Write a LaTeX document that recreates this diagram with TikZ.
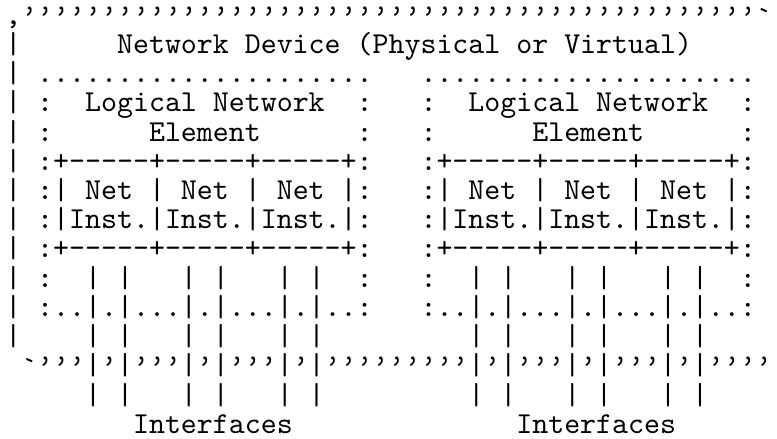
\documentclass[tikz,border=0pt]{standalone}
\usepackage{fontspec}
\setmonofont{lmmono10-regular.otf}
\newcommand\qm{\raisebox{-1pt}{’}}
\newcommand\gr{\raisebox{-3pt}{`}}
\newcount\qcnt
\newcommand\qms[1]{\qcnt=#1\relax\loop\ifnum\qcnt>0 \qm\advance\qcnt-1\repeat}
\begin{document}
\begin{tikzpicture}[x=1pt,y=1pt,
  arow/.style={anchor=base west,inner sep=0pt,outer sep=0pt,
    font=\ttfamily\fontsize{30.42}{30}\selectfont}]
\useasboundingbox (0,0) rectangle (777,439);
\def\px#1{{5.3+#1*15.97}}
\def\py#1{{414.9-#1*29.23}}
\node[arow] (r0) at (\px{0},\py{0}) {,\qms{46}\gr};
\node[arow] (r1) at (\px{0},\py{1}) {|~~~~~~Network~Device~(Physical~or~Virtual)};
\node[arow] (r2) at (\px{0},\py{2}) {|~.....................~~~.....................};
\node[arow] (r3) at (\px{0},\py{3}) {|~:~~Logical~Network~~:~~~:~~Logical~Network~~:};
\node[arow] (r4) at (\px{0},\py{4}) {|~:~~~~~~Element~~~~~~:~~~:~~~~~~Element~~~~~~:};
\node[arow] (r5) at (\px{0},\py{5}) {|~:+-----+-----+-----+:~~~:+-----+-----+-----+:};
\node[arow] (r6) at (\px{0},\py{6}) {|~:|~Net~|~Net~|~Net~|:~~~:|~Net~|~Net~|~Net~|:};
\node[arow] (r7) at (\px{0},\py{7}) {|~:|Inst.|Inst.|Inst.|:~~~:|Inst.|Inst.|Inst.|:};
\node[arow] (r8) at (\px{0},\py{8}) {|~:+-----+-----+-----+:~~~:+-----+-----+-----+:};
\node[arow] (r9) at (\px{0},\py{9}) {|~:~~|~|~~~|~|~~~|~|~~:~~~:~~|~|~~~|~|~~~|~|~~:};
\node[arow] (r10) at (\px{0},\py{10}) {|~:..|.|...|.|...|.|..:~~~:..|.|...|.|...|.|..:};
\node[arow] (r11) at (\px{0},\py{11}) {|~~~~|~|~~~|~|~~~|~|~~~~~~~~~|~|~~~|~|~~~|~|};
\node[arow] (r12) at (\px{1},\py{12}) {\gr\qms{3}|\qm|\qms{3}|\qm|\qms{3}|\qm|\qms{9}|\qm|\qms{3}|\qm|\qms{3}|\qm|\qms{4}};
\node[arow] (r13) at (\px{5},\py{13}) {|~|~~~|~|~~~|~|~~~~~~~~~|~|~~~|~|~~~|~|};
\node[arow] (r14a) at (\px{8},\py{14}) {Interfaces};
\node[arow] (r14b) at (\px{32},\py{14}) {Interfaces};
\end{tikzpicture}
\end{document}
